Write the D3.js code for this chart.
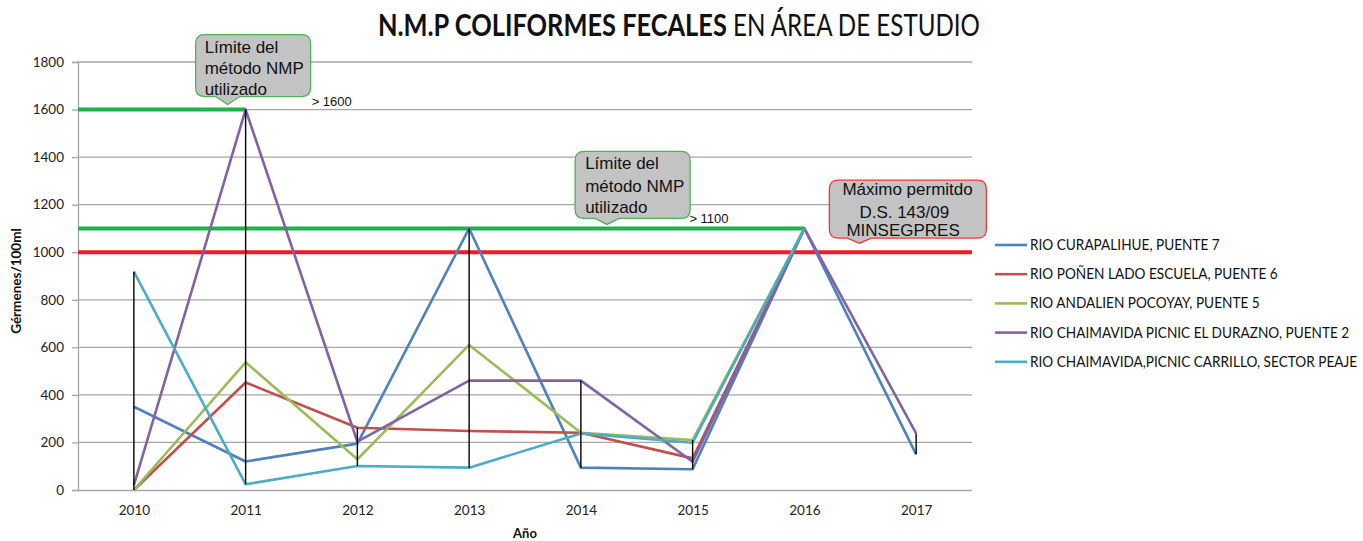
<!DOCTYPE html>
<html>
<head>
<meta charset="utf-8">
<script src="https://cdn.jsdelivr.net/npm/d3@7"></script>
<style>
  html, body { margin: 0; padding: 0; background: #fff; }
  svg { display: block; }
</style>
</head>
<body>
<svg id="chart" width="1363" height="541"></svg>
<script>
// ---------- DATA ----------
const years = ["2010", "2011", "2012", "2013", "2014", "2015", "2016", "2017"];
const seriesNames = [
  "RIO CURAPALIHUE, PUENTE  7",
  "RIO POÑEN LADO ESCUELA, PUENTE 6",
  "RIO ANDALIEN POCOYAY, PUENTE 5",
  "RIO CHAIMAVIDA PICNIC EL DURAZNO, PUENTE 2",
  "RIO CHAIMAVIDA,PICNIC CARRILLO, SECTOR PEAJE"
];
const curapalihue = [350, 120, 195, 1100, 94, 87, 1100, 150];
const ponen       = [0, 452, 262, 248, 241, 133, 1100, null];
const andalien    = [0, 537, 129, 610, 241, 210, 1100, null];
const durazno     = [20, 1600, 203, 460, 460, 119, 1100, 238];
const carrillo    = [918, 24, 101, 94, 238, 199, 1100, null];
const yTicks = [0, 200, 400, 600, 800, 1000, 1200, 1400, 1600, 1800];
const limit1600 = 1600, limit1600End = "2011";
const limit1100 = 1100, limit1100End = "2016";
const maxAllowed = 1000;
const titleBold = "N.M.P COLIFORMES FECALES";
const titleRegular = "EN ÁREA DE ESTUDIO";
const yTitle = "Gérmenes/100ml";
const xTitle = "Año";
const calloutText1 = ["Límite del", "método NMP", "utilizado"];
const calloutText2 = ["Límite del", "método NMP", "utilizado"];
const calloutText3 = ["Máximo permitdo", "D.S. 143/09", "MINSEGPRES"];
const label1600 = "> 1600";
const label1100 = "> 1100";

// ---------- SETUP ----------
const allSeries = [curapalihue, ponen, andalien, durazno, carrillo];
const colors = ["#4F81BD", "#C0504D", "#9BBB59", "#8064A2", "#4BACC6"];
const svg = d3.select("#chart");
const L = 78, R = 972, T = 62, B = 490;
const x = d3.scalePoint().domain(years).range([L, R]).padding(0.5);
const y = d3.scaleLinear().domain([0, 1800]).range([B, T]);
const calibri = "Lato, 'Open Sans', sans-serif";
const arial = "'Liberation Sans', Arial, sans-serif";

// gridlines
svg.append("g").selectAll("line").data(yTicks.filter(d => d > 0)).join("line")
  .attr("x1", L).attr("x2", R).attr("y1", d => y(d)).attr("y2", d => y(d))
  .attr("stroke", "#a6a6a6").attr("stroke-width", 1.3);

// y axis
const yAxis = svg.append("g").attr("transform", `translate(${L},0)`)
  .call(d3.axisLeft(y).tickValues(yTicks).tickSize(6).tickPadding(8).tickFormat(d3.format("d")));
yAxis.select(".domain").attr("stroke", "#a6a6a6").attr("stroke-width", 1.3);
yAxis.selectAll(".tick line").attr("stroke", "#a6a6a6").attr("stroke-width", 1.3);
yAxis.selectAll("text").attr("font-family", calibri).attr("font-size", 13.5).attr("fill", "#222");

// x axis
const xAxis = svg.append("g").attr("transform", `translate(0,${B})`)
  .call(d3.axisBottom(x).tickSize(0).tickPadding(15));
xAxis.select(".domain").attr("d", `M${L},0.5H${R}`).attr("stroke", "#a6a6a6").attr("stroke-width", 1.3);
xAxis.selectAll("text").attr("font-family", calibri).attr("font-size", 13.5).attr("fill", "#222");

// reference lines
svg.append("line").attr("x1", L).attr("x2", x(limit1600End)).attr("y1", y(limit1600)).attr("y2", y(limit1600))
  .attr("stroke", "#1EB04A").attr("stroke-width", 4);
svg.append("line").attr("x1", L).attr("x2", x(limit1100End)).attr("y1", y(limit1100)).attr("y2", y(limit1100))
  .attr("stroke", "#1EB04A").attr("stroke-width", 4);
svg.append("line").attr("x1", L).attr("x2", R).attr("y1", y(maxAllowed)).attr("y2", y(maxAllowed))
  .attr("stroke", "#EE1C25").attr("stroke-width", 4);

// series lines
const line = d3.line().defined(d => d.v !== null).x(d => x(d.k)).y(d => y(d.v));
allSeries.forEach((s, i) => {
  svg.append("path")
    .datum(years.map((k, j) => ({ k, v: s[j] })))
    .attr("d", line).attr("fill", "none")
    .attr("stroke", colors[i]).attr("stroke-width", 2.6).attr("stroke-linejoin", "round");
});

// high-low lines
years.forEach((k, j) => {
  const vals = allSeries.map(s => s[j]).filter(v => v !== null);
  const lo = d3.min(vals), hi = d3.max(vals);
  if (hi > lo) {
    svg.append("line").attr("x1", x(k)).attr("x2", x(k)).attr("y1", y(lo)).attr("y2", y(hi))
      .attr("stroke", "#000").attr("stroke-width", 1.4);
  }
});

// callouts
function callout(bx, by, w, h, tipX, tipY, stroke, lines, offsets, lineYs) {
  const r = 9, pw = 12;
  const p = d3.path();
  p.moveTo(bx + r, by);
  p.lineTo(bx + w - r, by);
  p.quadraticCurveTo(bx + w, by, bx + w, by + r);
  p.lineTo(bx + w, by + h - r);
  p.quadraticCurveTo(bx + w, by + h, bx + w - r, by + h);
  p.lineTo(tipX + pw, by + h);
  p.lineTo(tipX, tipY);
  p.lineTo(tipX - pw, by + h);
  p.lineTo(bx + r, by + h);
  p.quadraticCurveTo(bx, by + h, bx, by + h - r);
  p.lineTo(bx, by + r);
  p.quadraticCurveTo(bx, by, bx + r, by);
  p.closePath();
  svg.append("path").attr("d", p.toString()).attr("fill", "#C3C3C3").attr("stroke", stroke).attr("stroke-width", 1.3);
  lines.forEach((t, i) => {
    svg.append("text").attr("x", bx + offsets[i]).attr("y", by + lineYs[i])
      .attr("font-family", arial).attr("font-size", 17).attr("fill", "#111").text(t);
  });
}
const c1x = x("2011") - 50, c1y = y(limit1600) - 75;
callout(c1x, c1y, 115, 62, x("2011") - 18, y(limit1600) - 5, "#4DB353", calloutText1, [9, 9, 9], [18, 39, 60]);
const c2x = x("2013") + 106, c2y = y(limit1100) - 77;
callout(c2x, c2y, 115, 67, x("2013") + 138, y(limit1100) - 4, "#4DB353", calloutText2, [10, 10, 10], [18, 41, 62]);
const c3x = x("2016") + 25, c3y = y(maxAllowed) - 72;
callout(c3x, c3y, 157, 58, x("2016") + 55, y(maxAllowed) - 9, "#EE3A3A", calloutText3, [13, 30, 17], [15, 38, 56]);

svg.append("text").attr("x", x("2011") + 66).attr("y", y(limit1600) - 4)
  .attr("font-family", arial).attr("font-size", 13).attr("fill", "#111").text(label1600);
svg.append("text").attr("x", x("2016") - 115).attr("y", y(limit1100) - 5)
  .attr("font-family", arial).attr("font-size", 13).attr("fill", "#111").text(label1100);

// horizontally condensed text (Calibri-like), scaled to a target width
function condensed(parent, tx, ty, str, size, weight, targetW, factor) {
  const g = parent.append("g");
  const t = g.append("text").attr("x", 0).attr("y", 0).attr("font-family", calibri)
    .attr("font-size", size).attr("font-weight", weight).attr("fill", "#111").text(str);
  const w = t.node().getComputedTextLength();
  const f = targetW ? targetW / w : factor;
  g.attr("transform", `translate(${tx},${ty}) scale(${f},1)`);
  return g;
}

// title
condensed(svg, 378, 36, titleBold, 30, "bold", 349);
condensed(svg, 733, 36, titleRegular, 30, "normal", 247);

// axis titles
svg.append("text").attr("x", 525).attr("y", 538).attr("text-anchor", "middle")
  .attr("font-family", calibri).attr("font-size", 13).attr("font-weight", "bold").attr("fill", "#111").text(xTitle);
svg.append("text").attr("transform", "translate(21,281) rotate(-90)").attr("text-anchor", "middle")
  .attr("font-family", calibri).attr("font-size", 13.5).attr("font-weight", "bold").attr("fill", "#111").text(yTitle);

// legend
const lg = svg.append("g").attr("transform", "translate(995,245)");
seriesNames.forEach((n, i) => {
  const row = lg.append("g").attr("transform", `translate(0,${i * 29.2})`);
  row.append("line").attr("x1", 0).attr("x2", 32).attr("stroke", colors[i]).attr("stroke-width", 2.6);
  condensed(row, 35, 5, n, 14.5, "normal", null, 0.94);
});
</script>
</body>
</html>
